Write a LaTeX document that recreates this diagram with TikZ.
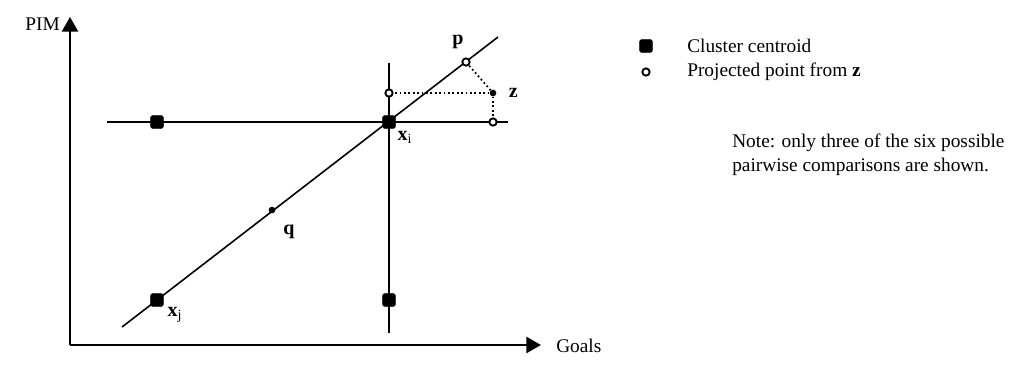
\documentclass[tikz,border=0pt]{standalone}
\usepackage{fontspec}
\setmainfont{Liberation Serif}
\usepackage{amsmath}
\usepackage{tikz}
\usetikzlibrary{arrows.meta, positioning}
\tikzset{
  % Cluster centroid (filled square)
  centroid/.style={
    rectangle, rounded corners=1.5pt,
    fill=black, draw=black,
    minimum size=9.5pt, inner sep=0pt
  },
  % Projected point (hollow circle)
  projpt/.style={
    circle, draw=black, line width=1.4pt,
    fill=white, minimum size=5.5pt, inner sep=0pt
  },
  % Data point (small filled dot)
  datapt/.style={
    circle, fill=black, minimum size=5pt, inner sep=0pt
  },
  % Lines
  axisarr/.style={-{Triangle[length=11pt,width=12pt]}, line width=2pt},
  pline/.style={line width=1.2pt},
  projline/.style={line width=1.3pt, dotted},
  % Labels
  ptlabel/.style={font=\fontsize{15}{18}\selectfont, inner sep=1pt},
  txt/.style={font=\fontsize{14.5}{18}\selectfont, inner sep=0pt},
}

\begin{document}
\begin{tikzpicture}[x=0.75pt, y=-0.75pt]

  \useasboundingbox (0,0) rectangle (1010,369);

  %% Axes
  \coordinate (O) at (70,345);
  \coordinate (ytip) at (70,17);
  \coordinate (xtip) at (541,345);
  \draw[axisarr] (O) -- (ytip);
  \draw[axisarr] (O) -- (xtip);
  \node[txt, anchor=east] (pim) at (60,24) {PIM};
  \node[txt, anchor=west] (goals) at (556,346) {Goals};

  %% Comparison lines through x_i
  \coordinate (hl) at (107,122);
  \coordinate (hr) at (508,122);
  \coordinate (vt) at (389,63);
  \coordinate (vb) at (389,333);
  \coordinate (dl) at (122,327);
  \coordinate (dr) at (498,37);
  \draw[pline] (hl) -- (hr);
  \draw[pline] (vt) -- (vb);
  \draw[pline] (dl) -- (dr);

  %% Cluster centroids
  \node[centroid] (xi) at (389,122) {};
  \node[centroid] (xj) at (157,300) {};
  \node[centroid] (ctl) at (157,122) {};
  \node[centroid] (cbr) at (389,300) {};
  \node[ptlabel, anchor=north west] (xilab) at (396,130) {$\mathbf{x}_{\mathrm{i}}$};
  \node[ptlabel, anchor=north west] (xjlab) at (166,306) {$\mathbf{x}_{\mathrm{j}}$};

  %% Point z and its projections
  \node[datapt] (z) at (493,93) {};
  \node[projpt] (pv) at (389,93) {};
  \node[projpt] (ph) at (493,122) {};
  \node[projpt] (p) at (466,62) {};
  \draw[projline] (z) -- (pv);
  \draw[projline] (z) -- (ph);
  \draw[projline] (z) -- (p);
  \node[ptlabel, right=8pt of z] (zlab) {$\mathbf{z}$};
  \node[ptlabel] (plab) at (458,42) {$\mathbf{p}$};

  %% Point q
  \node[datapt] (q) at (272,210) {};
  \node[ptlabel] (qlab) at (289,232) {$\mathbf{q}$};

  %% Legend
  \node[centroid] (legc) at (646,46) {};
  \node[projpt, fill=white] (legp) at (646,72) {};
  \node[txt, anchor=west] (legctxt) at (687,46) {Cluster centroid};
  \node[txt, anchor=west] (legptxt) at (687,72) {Projected point from $\mathbf{z}$};

  %% Note
  \node[txt, anchor=north west, align=left, font=\fontsize{14.5}{18}\selectfont]
    (note) at (732,134) {Note: only three of the six possible\\pairwise comparisons are shown.};

\end{tikzpicture}
\end{document}
